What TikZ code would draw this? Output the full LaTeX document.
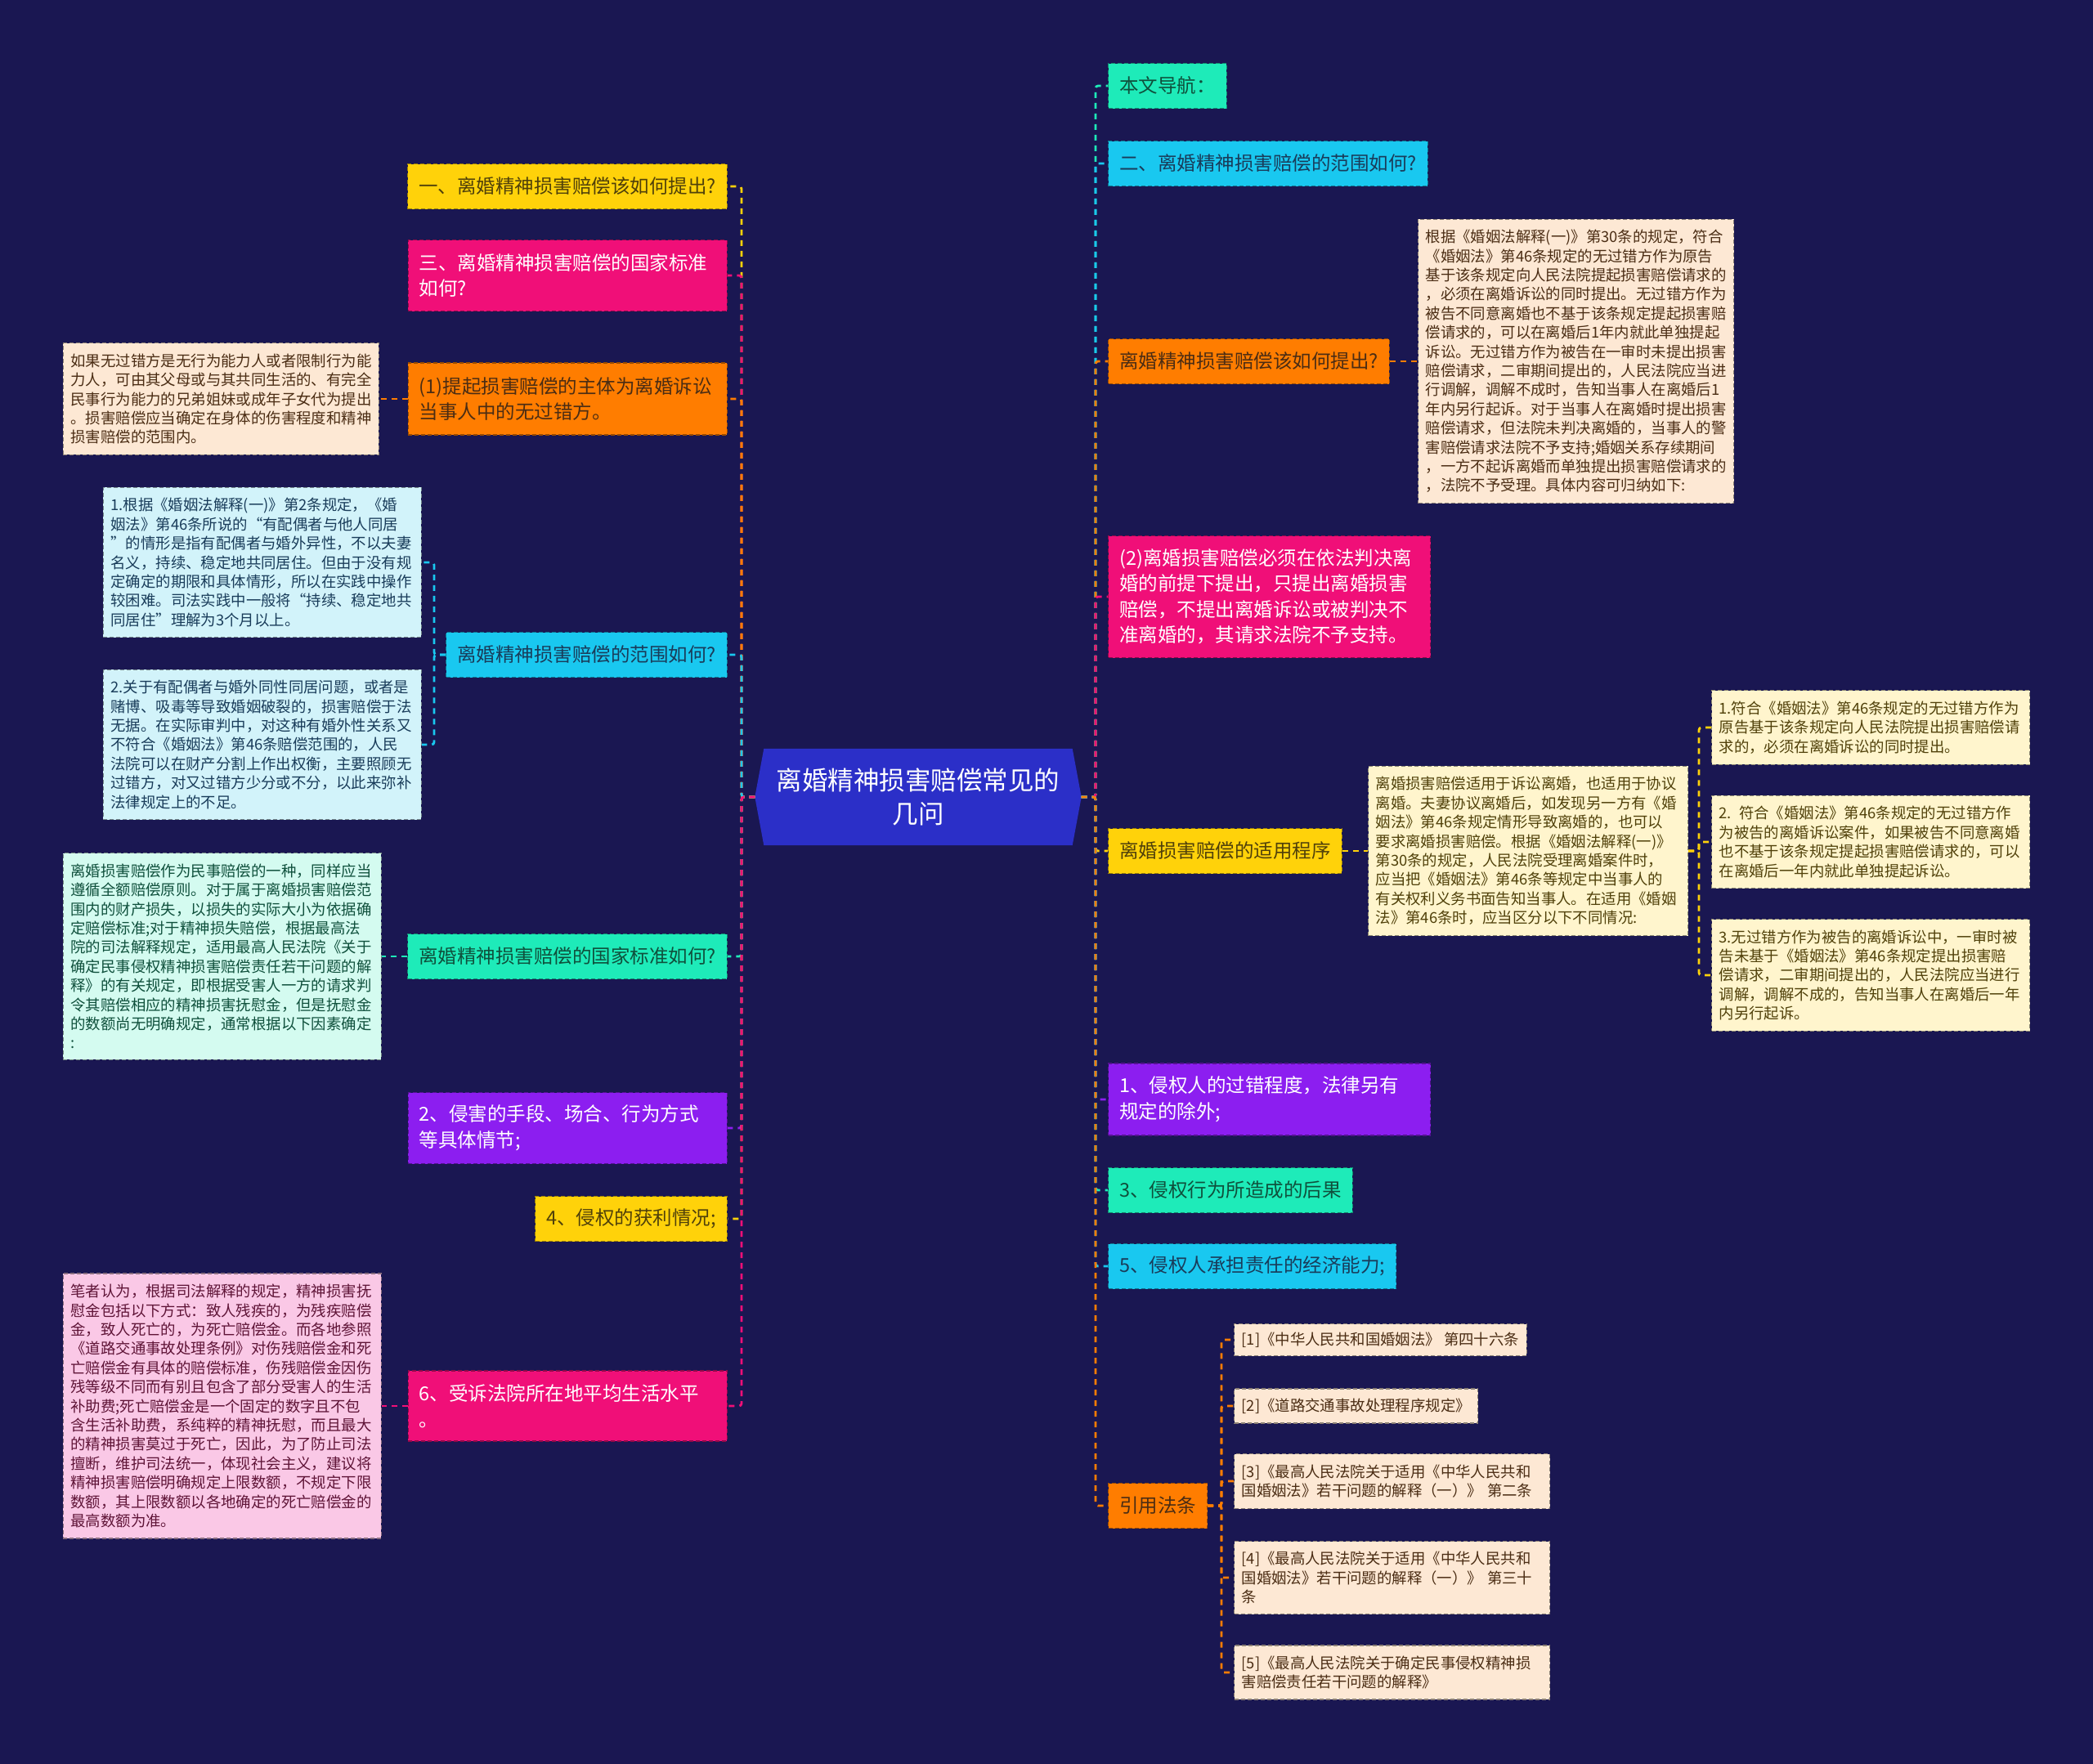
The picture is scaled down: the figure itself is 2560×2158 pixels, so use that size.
\documentclass[tikz,border=0pt]{standalone}
\usepackage{fontspec}
\setmainfont{Noto Sans CJK SC}
\usetikzlibrary{backgrounds}

\definecolor{bgnavy}{RGB}{26,23,82}
\definecolor{rootblue}{RGB}{43,47,200}
\definecolor{cyellow}{RGB}{255,210,10}
\definecolor{cpink}{RGB}{240,15,120}
\definecolor{corange}{RGB}{255,125,0}
\definecolor{ccyan}{RGB}{25,200,240}
\definecolor{cteal}{RGB}{30,235,185}
\definecolor{cpurple}{RGB}{140,30,240}
\definecolor{npeach}{RGB}{253,232,212}
\definecolor{ncyan}{RGB}{210,243,250}
\definecolor{nmint}{RGB}{212,251,240}
\definecolor{npink}{RGB}{250,200,230}
\definecolor{nyellow}{RGB}{255,245,205}
\definecolor{tbrown}{RGB}{75,45,20}
\definecolor{tolive}{RGB}{80,65,10}
\definecolor{tslate}{RGB}{25,60,90}
\definecolor{tgreen}{RGB}{15,80,60}
\definecolor{tmaroon}{RGB}{95,20,55}

\newcommand\rootfont{\fontsize{31.5}{41.7}\selectfont}
\newcommand\topicfont{\fontsize{23.5}{31.5}\selectfont}
\newcommand\notefont{\fontsize{18.4}{23.4}\selectfont}

\tikzset{
  rootnode/.style={text=white, font=\rootfont, align=center, minimum width=377pt, minimum height=118pt, inner sep=0pt},
  topic/.style 2 args={draw=#1!60!black, dash pattern=on 5pt off 3pt, line width=1.2pt, fill=#1, text=#2, font=\topicfont, align=left, inner xsep=13.5pt, inner ysep=14pt, minimum height=55pt},
  note/.style 2 args={draw=#1!55!black, dash pattern=on 5pt off 3pt, line width=1.2pt, fill=#1, text=#2, font=\notefont, align=left, inner xsep=9pt, inner ysep=13pt},
  link/.style={draw=#1, line width=2.8pt, dash pattern=on 7pt off 6pt, rounded corners=3pt},
}

\begin{document}
\begin{tikzpicture}[x=1pt,y=-1pt]
  \useasboundingbox (0,0) rectangle (2560,2158);
  \begin{scope}[on background layer]
    \fill[bgnavy] (0,0) rectangle (2560,2158);
  \end{scope}

  \node[rootnode] (root) at (1123,975) {离婚精神损害赔偿常见的\\几问};
  \begin{scope}[on background layer]
    \fill[rootblue] (root.north west) -- (root.north east) -- ([xshift=11pt]root.east)
      -- (root.south east) -- (root.south west) -- ([xshift=-11pt]root.west) -- cycle;
  \end{scope}
  \coordinate (rl) at ([xshift=-11pt]root.west);
  \coordinate (rr) at ([xshift=11pt]root.east);
  \coordinate (lt) at (907,975);
  \coordinate (rt) at (1340,975);

  % left side
  \node[topic={cyellow}{tolive}, anchor=east] (l1) at (890,228) {一、离婚精神损害赔偿该如何提出?};
  \node[topic={cpink}{white}, anchor=east, text width=363pt, minimum height=87pt] (l2) at (890,337) {三、离婚精神损害赔偿的国家标准\\如何?};
  \node[topic={corange}{tbrown}, anchor=east, text width=363pt, minimum height=88pt] (l3) at (890,488) {(1)提起损害赔偿的主体为离婚诉讼\\当事人中的无过错方。};
  \node[topic={ccyan}{tslate}, anchor=east] (l4) at (890,801) {离婚精神损害赔偿的范围如何?};
  \node[topic={cteal}{tgreen}, anchor=east] (l5) at (890,1170) {离婚精神损害赔偿的国家标准如何?};
  \node[topic={cpurple}{white}, anchor=east, text width=363pt, minimum height=87pt] (l6) at (890,1380) {2、侵害的手段、场合、行为方式\\等具体情节;};
  \node[topic={cyellow}{tolive}, anchor=east] (l7) at (890,1491) {4、侵权的获利情况;};
  \node[topic={cpink}{white}, anchor=east, text width=363pt, minimum height=86pt] (l8) at (890,1720) {6、受诉法院所在地平均生活水平\\。};

  \node[note={npeach}{tbrown}, anchor=east, text width=368pt] (n3) at (464,488) {如果无过错方是无行为能力人或者限制行为能\\力人，可由其父母或与其共同生活的、有完全\\民事行为能力的兄弟姐妹或成年子女代为提出\\。损害赔偿应当确定在身体的伤害程度和精神\\损害赔偿的范围内。};
  \node[note={ncyan}{tslate}, anchor=east, text width=371pt] (n4a) at (516,688) {1.根据《婚姻法解释(一)》第2条规定，《婚\\姻法》第46条所说的“有配偶者与他人同居\\”的情形是指有配偶者与婚外异性，不以夫妻\\名义，持续、稳定地共同居住。但由于没有规\\定确定的期限和具体情形，所以在实践中操作\\较困难。司法实践中一般将“持续、稳定地共\\同居住”理解为3个月以上。};
  \node[note={ncyan}{tslate}, anchor=east, text width=371pt] (n4b) at (516,911) {2.关于有配偶者与婚外同性同居问题，或者是\\赌博、吸毒等导致婚姻破裂的，损害赔偿于法\\无据。在实际审判中，对这种有婚外性关系又\\不符合《婚姻法》第46条赔偿范围的，人民\\法院可以在财产分割上作出权衡，主要照顾无\\过错方，对又过错方少分或不分，以此来弥补\\法律规定上的不足。};
  \node[note={nmint}{tgreen}, anchor=east, text width=371pt] (n5) at (467,1170) {离婚损害赔偿作为民事赔偿的一种，同样应当\\遵循全额赔偿原则。对于属于离婚损害赔偿范\\围内的财产损失，以损失的实际大小为依据确\\定赔偿标准;对于精神损失赔偿，根据最高法\\院的司法解释规定，适用最高人民法院《关于\\确定民事侵权精神损害赔偿责任若干问题的解\\释》的有关规定，即根据受害人一方的请求判\\令其赔偿相应的精神损害抚慰金，但是抚慰金\\的数额尚无明确规定，通常根据以下因素确定\\:};
  \node[note={npink}{tmaroon}, anchor=east, text width=371pt] (n8) at (467,1720) {笔者认为，根据司法解释的规定，精神损害抚\\慰金包括以下方式：致人残疾的，为残疾赔偿\\金，致人死亡的，为死亡赔偿金。而各地参照\\《道路交通事故处理条例》对伤残赔偿金和死\\亡赔偿金有具体的赔偿标准，伤残赔偿金因伤\\残等级不同而有别且包含了部分受害人的生活\\补助费;死亡赔偿金是一个固定的数字且不包\\含生活补助费，系纯粹的精神抚慰，而且最大\\的精神损害莫过于死亡，因此，为了防止司法\\擅断，维护司法统一，体现社会主义，建议将\\精神损害赔偿明确规定上限数额，不规定下限\\数额，其上限数额以各地确定的死亡赔偿金的\\最高数额为准。};

  % right side
  \node[topic={cteal}{tgreen}, anchor=west] (r1) at (1355,105) {本文导航：};
  \node[topic={ccyan}{tslate}, anchor=west] (r2) at (1355,200) {二、离婚精神损害赔偿的范围如何?};
  \node[topic={corange}{tbrown}, anchor=west] (r3) at (1355,442) {离婚精神损害赔偿该如何提出?};
  \node[topic={cpink}{white}, anchor=west, text width=367pt, minimum height=149pt] (r4) at (1355,730) {(2)离婚损害赔偿必须在依法判决离\\婚的前提下提出，只提出离婚损害\\赔偿，不提出离婚诉讼或被判决不\\准离婚的，其请求法院不予支持。};
  \node[topic={cyellow}{tolive}, anchor=west] (r5) at (1355,1041) {离婚损害赔偿的适用程序};
  \node[topic={cpurple}{white}, anchor=west, text width=367pt, minimum height=88pt] (r6) at (1355,1345) {1、侵权人的过错程度，法律另有\\规定的除外;};
  \node[topic={cteal}{tgreen}, anchor=west] (r7) at (1355,1456) {3、侵权行为所造成的后果};
  \node[topic={ccyan}{tslate}, anchor=west] (r8) at (1355,1549) {5、侵权人承担责任的经济能力;};
  \node[topic={corange}{tbrown}, anchor=west] (r9) at (1355,1842) {引用法条};

  \node[note={npeach}{tbrown}, anchor=west, text width=368pt] (m3) at (1734,442) {根据《婚姻法解释(一)》第30条的规定，符合\\《婚姻法》第46条规定的无过错方作为原告\\基于该条规定向人民法院提起损害赔偿请求的\\，必须在离婚诉讼的同时提出。无过错方作为\\被告不同意离婚也不基于该条规定提起损害赔\\偿请求的，可以在离婚后1年内就此单独提起\\诉讼。无过错方作为被告在一审时未提出损害\\赔偿请求，二审期间提出的，人民法院应当进\\行调解，调解不成时，告知当事人在离婚后1\\年内另行起诉。对于当事人在离婚时提出损害\\赔偿请求，但法院未判决离婚的，当事人的警\\害赔偿请求法院不予支持;婚姻关系存续期间\\，一方不起诉离婚而单独提出损害赔偿请求的\\，法院不予受理。具体内容可归纳如下:};
  \node[note={nyellow}{tolive}, anchor=west, text width=373pt] (m5) at (1673,1041) {离婚损害赔偿适用于诉讼离婚，也适用于协议\\离婚。夫妻协议离婚后，如发现另一方有《婚\\姻法》第46条规定情形导致离婚的，也可以\\要求离婚损害赔偿。根据《婚姻法解释(一)》\\第30条的规定，人民法院受理离婚案件时，\\应当把《婚姻法》第46条等规定中当事人的\\有关权利义务书面告知当事人。在适用《婚姻\\法》第46条时，应当区分以下不同情况:};
  \node[note={nyellow}{tolive}, anchor=west, text width=371pt] (m5a) at (2093,890) {1.符合《婚姻法》第46条规定的无过错方作为\\原告基于该条规定向人民法院提出损害赔偿请\\求的，必须在离婚诉讼的同时提出。};
  \node[note={nyellow}{tolive}, anchor=west, text width=371pt] (m5b) at (2093,1030) {2. 符合《婚姻法》第46条规定的无过错方作\\为被告的离婚诉讼案件，如果被告不同意离婚\\也不基于该条规定提起损害赔偿请求的，可以\\在离婚后一年内就此单独提起诉讼。};
  \node[note={nyellow}{tolive}, anchor=west, text width=371pt] (m5c) at (2093,1193) {3.无过错方作为被告的离婚诉讼中，一审时被\\告未基于《婚姻法》第46条规定提出损害赔\\偿请求，二审期间提出的，人民法院应当进行\\调解，调解不成的，告知当事人在离婚后一年\\内另行起诉。};

  \node[note={npeach}{tbrown}, anchor=west, inner ysep=10pt, minimum height=39pt] (law1) at (1509,1639) {[1]《中华人民共和国婚姻法》 第四十六条};
  \node[note={npeach}{tbrown}, anchor=west, inner ysep=10pt, minimum height=42pt] (law2) at (1509,1720) {[2]《道路交通事故处理程序规定》};
  \node[note={npeach}{tbrown}, anchor=west, inner ysep=10pt, text width=368pt, minimum height=67pt] (law3) at (1509,1812) {[3]《最高人民法院关于适用《中华人民共和\\国婚姻法》若干问题的解释（一）》 第二条};
  \node[note={npeach}{tbrown}, anchor=west, inner ysep=10pt, text width=368pt, minimum height=89pt] (law4) at (1509,1930) {[4]《最高人民法院关于适用《中华人民共和\\国婚姻法》若干问题的解释（一）》 第三十\\条};
  \node[note={npeach}{tbrown}, anchor=west, inner ysep=10pt, text width=368pt, minimum height=66pt] (law5) at (1509,2046) {[5]《最高人民法院关于确定民事侵权精神损\\害赔偿责任若干问题的解释》};

  % connectors
  \foreach \n/\c in {l1/cyellow, l2/cpink, l3/corange, l4/ccyan, l5/cteal, l6/cpurple, l7/cyellow, l8/cpink}
    \draw[link=\c] (rl) -- (lt) |- (\n.east);
  \foreach \n/\c in {r1/cteal, r2/ccyan, r3/corange, r4/cpink, r5/cyellow, r6/cpurple, r7/cteal, r8/ccyan, r9/corange}
    \draw[link=\c] (rr) -- (rt) |- (\n.west);

  \draw[link=corange] (l3.west) -- (n3.east);
  \coordinate (t4) at (531,801);
  \foreach \n in {n4a, n4b}
    \draw[link=ccyan] (l4.west) -- (t4) |- (\n.east);
  \draw[link=cteal] (l5.west) -- (n5.east);
  \draw[link=cpink] (l8.west) -- (n8.east);
  \draw[link=corange] (r3.east) -- (m3.west);
  \draw[link=cyellow] (r5.east) -- (m5.west);
  \coordinate (t5) at (2078,1041);
  \foreach \n in {m5a, m5b, m5c}
    \draw[link=cyellow] (m5.east) -- (t5) |- (\n.west);
  \coordinate (t9) at (1494,1842);
  \foreach \n in {law1, law2, law3, law4, law5}
    \draw[link=corange] (r9.east) -- (t9) |- (\n.west);
\end{tikzpicture}
\end{document}
